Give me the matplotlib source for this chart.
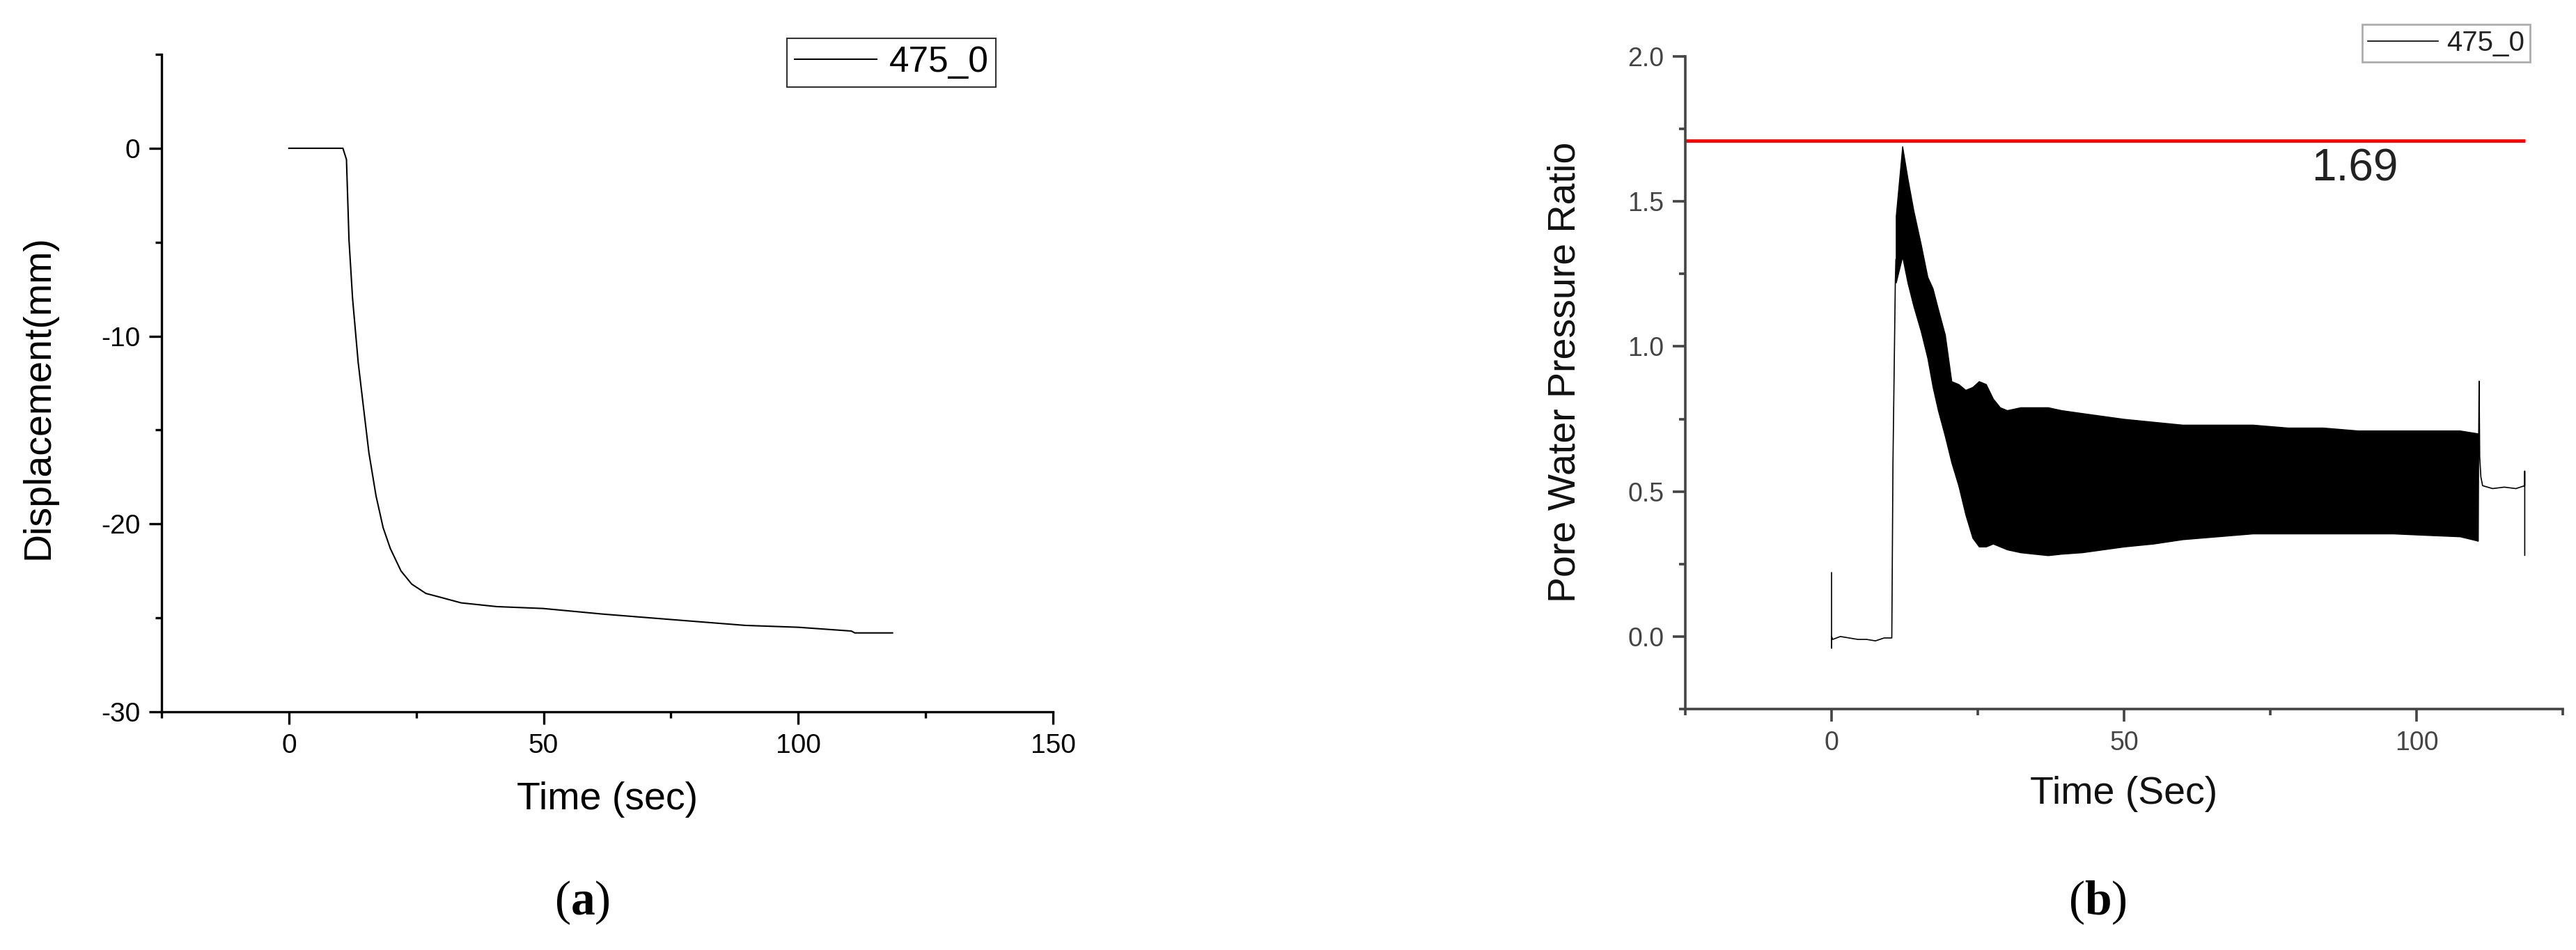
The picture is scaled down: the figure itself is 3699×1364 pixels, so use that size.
import matplotlib
matplotlib.use('Agg')
import matplotlib.pyplot as plt
from matplotlib.ticker import MultipleLocator, FormatStrFormatter

plt.rcParams['font.family'] = ['Liberation Sans', 'DejaVu Sans']
plt.rcParams['axes.unicode_minus'] = False
plt.rcParams['mathtext.fontset'] = 'custom'
plt.rcParams['mathtext.rm'] = 'Liberation Serif'
plt.rcParams['mathtext.bf'] = 'Liberation Serif:bold'

# (a) displacement vs time
time_a = [0, 10.6, 11.3, 11.8, 12.5, 13.6, 14.6, 15.7, 17.1, 18.5, 19.9, 22.0, 24.1,
          26.9, 29.7, 33.8, 40.8, 49.9, 61.7, 75.6, 89.6, 100, 110.4, 111.1, 118.5]
disp_a = [0, 0, -0.6, -4.9, -8.0, -11.4, -13.7, -16.2, -18.5, -20.2, -21.3, -22.5, -23.2,
          -23.7, -23.9, -24.2, -24.4, -24.5, -24.8, -25.1, -25.4, -25.5, -25.7, -25.8, -25.8]

# (b) pore water pressure ratio: quiet start, oscillating band (envelope), tail
time_pre = [0, 0, 0, 0.2, 1.5, 3, 4.5, 6, 7.5, 9, 10.3, 10.5, 10.9, 11.0]
pwp_pre = [0.22, -0.04, 0.0, -0.01, 0.0, -0.005, -0.01, -0.01, -0.015, -0.005, -0.005, 0.6, 1.22, 1.3]

time_band = [11.0, 12.1, 13.0, 14.0, 15.3, 16.4, 17.3, 18.2, 19.4, 20.5, 21.7, 22.9, 24.1,
             25.2, 26.4, 27.6, 28.8, 30, 32.3, 34.6, 37, 39.3, 42.8, 46.4, 50, 55, 60,
             66, 72, 78, 84, 90, 96, 101.5, 107.4, 110.5]
pwp_upper = [1.45, 1.69, 1.58, 1.47, 1.35, 1.24, 1.20, 1.13, 1.04, 0.88, 0.87, 0.85, 0.86,
             0.88, 0.87, 0.82, 0.79, 0.78, 0.79, 0.79, 0.79, 0.78, 0.77, 0.76, 0.75, 0.74, 0.73,
             0.73, 0.73, 0.72, 0.72, 0.71, 0.71, 0.71, 0.71, 0.70]
pwp_lower = [1.22, 1.31, 1.22, 1.14, 1.05, 0.96, 0.86, 0.78, 0.69, 0.60, 0.52, 0.42, 0.34,
             0.31, 0.31, 0.32, 0.31, 0.30, 0.29, 0.285, 0.28, 0.285, 0.29, 0.30, 0.31, 0.32, 0.335,
             0.345, 0.355, 0.355, 0.355, 0.355, 0.355, 0.35, 0.345, 0.33]

time_post = [110.5, 110.7, 110.8, 111.0, 111.3, 113, 115, 117, 118.5, 118.5, 118.5]
pwp_post = [0.33, 0.88, 0.62, 0.55, 0.52, 0.51, 0.515, 0.51, 0.52, 0.57, 0.28]

peak_ratio = 1.71
peak_label = '1.69'
series_name = '475_0'


def style_axes(ax, color, lw, tick_size):
    for side in ['top', 'right']:
        ax.spines[side].set_visible(False)
    for side in ['left', 'bottom']:
        ax.spines[side].set_linewidth(lw)
        ax.spines[side].set_color(color)
    ax.tick_params(which='major', direction='out', length=13, width=lw, colors=color,
                   labelsize=tick_size, pad=9)
    ax.tick_params(which='minor', direction='out', length=6.5, width=lw, colors=color)


fig = plt.figure(figsize=(36.99, 13.64), dpi=100)

# ---- panel (a)
ax1 = fig.add_axes([232 / 3699, 1 - 1022 / 1364, 1280 / 3699, 944 / 1364])
ax1.plot(time_a, disp_a, c='black', lw=1.5, label=series_name)
ax1.set_xlim(-25, 150)
ax1.set_ylim(-30, 5)
ax1.xaxis.set_major_locator(MultipleLocator(50))
ax1.xaxis.set_minor_locator(MultipleLocator(25))
ax1.yaxis.set_major_locator(MultipleLocator(10))
ax1.yaxis.set_minor_locator(MultipleLocator(5))
style_axes(ax1, 'black', 2.4, 28)
ax1.set_xlabel('Time (sec)', fontsize=40, va='center')
ax1.xaxis.set_label_coords(0.5, -0.133)
ax1.set_ylabel('Displacement(mm)', fontsize=40, va='center')
ax1.yaxis.set_label_coords(-0.138, 0.479)
leg1 = ax1.legend(loc='upper right', bbox_to_anchor=(1430 / 3699, 1 - 55 / 1364),
                  bbox_transform=fig.transFigure, borderaxespad=0, fontsize=37,
                  handlelength=2.3, handletextpad=0.35, borderpad=0.2, fancybox=False)
leg1.get_frame().set_edgecolor('black')
leg1.get_frame().set_linewidth(1.5)

# ---- panel (b)
ax2 = fig.add_axes([2420 / 3699, 1 - 1018 / 1364, 1260 / 3699, 937 / 1364])
ax2.plot(time_pre, pwp_pre, c='black', lw=1.2, label=series_name)
ax2.fill_between(time_band, pwp_lower, pwp_upper, color='black', lw=1.0)
ax2.plot(time_post, pwp_post, c='black', lw=1.2)
ax2.hlines(peak_ratio, -25, 118.6, colors='red', lw=3.5)
ax2.text(89.5, 1.613, peak_label, fontsize=46, color='#222222', ha='center', va='center')
ax2.set_xlim(-25, 125)
ax2.set_ylim(-0.25, 2.0)
ax2.xaxis.set_major_locator(MultipleLocator(50))
ax2.xaxis.set_minor_locator(MultipleLocator(25))
ax2.yaxis.set_major_locator(MultipleLocator(0.5))
ax2.yaxis.set_minor_locator(MultipleLocator(0.25))
ax2.yaxis.set_major_formatter(FormatStrFormatter('%.1f'))
style_axes(ax2, '#444444', 2.6, 27)
ax2.set_xlabel('Time (Sec)', fontsize=40, va='center', color='#111111')
ax2.xaxis.set_label_coords(0.5, -0.130)
ax2.set_ylabel('Pore Water Pressure Ratio', fontsize=40, va='center', color='#111111')
ax2.yaxis.set_label_coords(-0.137, 0.5165)
leg2 = ax2.legend(loc='upper right', bbox_to_anchor=(3633 / 3699, 1 - 35 / 1364),
                  bbox_transform=fig.transFigure, borderaxespad=0, fontsize=29,
                  handlelength=2.5, handletextpad=0.3, borderpad=0.2, fancybox=False)
leg2.get_frame().set_edgecolor('#999999')
leg2.get_frame().set_linewidth(2)
for t in leg2.get_texts():
    t.set_color('#222222')

# captions
fig.text(836 / 3699, 1 - 1296 / 1364, r'($\mathbf{a}$)', fontsize=50,
         family='Liberation Serif', ha='center', va='center')
fig.text(3012 / 3699, 1 - 1296 / 1364, r'($\mathbf{b}$)', fontsize=50,
         family='Liberation Serif', ha='center', va='center')

fig.savefig('out.png', dpi=100)
